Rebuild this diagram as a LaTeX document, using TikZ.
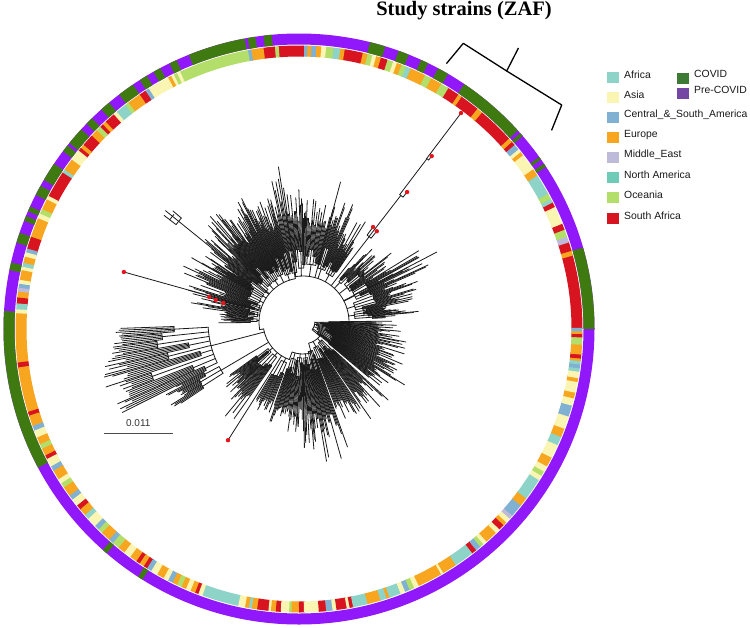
\documentclass[tikz,border=0pt]{standalone}
\usepackage{fontspec}
\setmainfont{Liberation Serif}
\newfontfamily\lsans{Liberation Sans}
\definecolor{cAfr}{HTML}{8DD3C7}
\definecolor{cAsia}{HTML}{FBF5B4}
\definecolor{cCSA}{HTML}{80B1D3}
\definecolor{cEur}{HTML}{F8A51F}
\definecolor{cME}{HTML}{BEBADA}
\definecolor{cNA}{HTML}{6DCBB8}
\definecolor{cOce}{HTML}{B3DE69}
\definecolor{cSA}{HTML}{D7141F}
\definecolor{ringG}{HTML}{3F7A10}
\definecolor{ringP}{HTML}{9118FA}
\definecolor{legG}{HTML}{3E7A35}
\definecolor{legP}{HTML}{7447A4}
\definecolor{treec}{HTML}{1A1A1A}
\definecolor{dotred}{HTML}{E8141C}
\tikzset{
  br/.style={draw=treec, line width=0.8pt, line cap=round},
  reddot/.style={fill=dotred},
  legbox/.style={minimum width=12pt, minimum height=11pt, inner sep=0pt, anchor=north west},
  legtxt/.style={font=\lsans\fontsize{10.4}{12}\selectfont, text=black!90, anchor=west, inner sep=0pt},
  brace/.style={draw=black, line width=1.3pt, line join=round, line cap=round}
}
\newcommand\myclade[8]{%
  \pgfmathsetmacro\cw{(#2-#1)/#3}%
  \pgfmathsetmacro\cm{(#1+#2)/2}%
  \pgfmathsetmacro\ca{#1+0.425*\cw}%
  \pgfmathsetmacro\cb{#2-0.575*\cw}%
  \draw[br] ([shift={(\cm:#4)}]T) -- ([shift={(\cm:#5)}]T);
  \draw[br] ([shift={(\ca:#5)}]T) arc[start angle=\ca, end angle=\cb, radius=#5];
  \foreach \jj in {1,...,#3}{%
    \pgfmathsetmacro\ga{#1+(\jj-1)*\cw}%
    \pgfmathsetmacro\gb{\ga+0.85*\cw}%
    \pgfmathsetmacro\gc{(\ga+\gb)/2}%
    \pgfmathsetmacro\rg{#5+2+#8*rnd}%
    \draw[br] ([shift={(\gc:#5)}]T) -- ([shift={(\gc:\rg)}]T);
    \draw[br] ([shift={(\ga:\rg)}]T) arc[start angle=\ga, end angle=\gb, radius=\rg];
    \foreach \kk in {0,...,4}{%
      \pgfmathsetmacro\la{\ga+(\gb-\ga)*\kk/4}%
      \pgfmathsetmacro\rr{rnd}%
      \pgfmathsetmacro\lf{max(\rg+6,#6+(#7-#6)*(0.4*\rr+0.6*\rr*\rr))}%
      \draw[br] ([shift={(\la:\rg)}]T) -- ([shift={(\la:\lf)}]T);
    }%
  }%
}
\begin{document}
\begin{tikzpicture}[x=1pt,y=1pt]
\useasboundingbox (0,0) rectangle (750,-627);
\fill[white] (0,0) rectangle (750,-627);
\coordinate (C) at (299,-329);
\coordinate (T) at (303,-322);
\pgfmathsetseed{7}

% ---------- outer ring (COVID / Pre-COVID)
\draw[ringP, line width=11pt] (C) circle[radius=290];
\foreach \pa/\pb in {0/16, 33.3/34, 35/35.6, 40.8/41.5, 42.2/56, 59.7/61.9, 64.1/65.6,
  68.2/70.3, 73/76.1, 95.3/96.9, 98.5/100, 100.6/111.9, 114.5/116, 118/119.5, 121/122.6,
  124.2/127.5, 130/132, 134.5/136, 137.5/141, 141.6/143, 146/149.7, 151/153, 155.5/156.5,
  157.5/158.5, 161/163, 167/168.5, 176.5/208, 228.4/229.4, 237/238}{
  \draw[ringG, line width=11pt] ([shift={(\pa:290)}]C) arc[start angle=\pa, end angle=\pb, radius=290];
}

% ---------- inner ring (regions)
\foreach \pa/\pb/\cl in {0/15/cSA, 15/16/cEur, 16/17.8/cSA, 17.8/19/cME, 19/20.5/cOce, 20.5/21.8/cSA,
 21.8/25.5/cAsia, 25.5/26.5/cSA, 26.5/27.3/cAfr, 27.3/28.5/cOce, 28.5/32.8/cAfr, 32.8/34.3/cEur,
 34.3/37.8/cAsia, 37.8/38.6/cEur, 38.6/39.3/cAsia, 39.3/40.5/cCSA, 40.5/41.3/cSA, 41.3/42.2/cEur,
 42.2/49.8/cSA, 49.8/51/cEur, 51/55/cSA, 55/55.8/cEur, 55.8/58.2/cSA, 58.2/59.9/cOce, 59.9/62.2/cEur,
 62.2/63.6/cOce, 63.6/66.8/cEur, 66.8/67.8/cAfr, 67.8/68.8/cOce, 68.8/69.8/cEur, 69.8/70.6/cAsia,
 70.6/71.8/cOce, 71.8/73.2/cSA, 73.2/74.2/cEur, 74.2/75/cAsia, 75/76/cOce, 76/77/cEur, 77/80.7/cSA,
 80.7/81.6/cEur, 81.6/83/cAfr, 83/84.5/cOce, 84.5/85.5/cAsia, 85.5/86.5/cEur, 86.5/87.5/cCSA,
 87.5/88.3/cEur, 88.3/89/cCSA, 89/94.1/cSA, 94.1/94.9/cOce, 94.9/97.2/cSA, 97.2/99.7/cEur,
 99.7/100.4/cCSA, 100.4/114.8/cOce, 114.8/115.5/cAsia, 115.5/116.2/cOce, 116.2/116.8/cAsia,
 116.8/117.5/cEur, 117.5/122/cAsia, 122/122.8/cCSA, 122.8/124.2/cSA, 124.2/127/cEur, 127/127.8/cOce,
 127.8/130/cAfr, 130/130.8/cAsia, 130.8/133/cSA, 133/133.8/cEur, 133.8/134.5/cSA, 134.5/135.5/cOce,
 135.5/137/cEur, 137/139.5/cSA, 139.5/140.3/cEur, 140.3/141/cSA, 141/143.3/cAsia, 143.3/145.8/cEur,
 145.8/146.5/cAfr, 146.5/152/cSA, 152/152.8/cAsia, 152.8/155/cEur, 155/156/cOce, 156/157/cAsia,
 157/161/cEur, 161/163.5/cSA, 163.5/164.3/cCSA, 164.3/165.2/cAsia, 165.2/166.5/cEur, 166.5/167.3/cAfr,
 167.3/168/cAsia, 168/170/cEur, 170/170.8/cAsia, 170.8/171.6/cCSA, 171.6/172.4/cME, 172.4/173.6/cEur,
 173.6/174.8/cSA, 174.8/176/cAfr, 176/176.8/cAsia, 176.8/186.8/cEur, 186.8/187.8/cSA, 187.8/197/cEur,
 197/197.8/cSA, 197.8/200/cEur, 200/201/cCSA, 201/202.5/cAsia, 202.5/204/cEur, 204/205/cOce,
 205/206.5/cEur, 206.5/207.3/cSA, 207.3/209/cAsia, 209/210/cCSA, 210/212/cEur, 212/213/cAsia,
 213/214/cOce, 214/216/cEur, 216/217/cCSA, 217/218.5/cAsia, 218.5/219.5/cSA, 219.5/221/cEur,
 221/222/cAfr, 222/224/cAsia, 224/225/cCSA, 225/226/cOce, 226/228/cEur, 228/229/cCSA, 229/230.5/cOce,
 230.5/232/cEur, 232/233.5/cAsia, 233.5/235/cEur, 235/235.8/cSA, 235.8/236.8/cEur, 236.8/237.6/cSA,
 237.6/238.6/cCSA, 238.6/240/cAsia, 240/241.5/cEur, 241.5/242.5/cAsia, 242.5/243.5/cCSA,
 243.5/244.5/cEur, 244.5/245.5/cOce, 245.5/246.5/cEur, 246.5/247.5/cAsia, 247.5/248.5/cEur,
 248.5/249.2/cSA, 249.2/250.1/cAsia, 250.1/257.6/cAfr, 257.6/259/cAsia, 259/259.8/cEur,
 259.8/260.4/cAfr, 260.4/261.5/cEur, 261.5/263.8/cSA, 263.8/264.3/cAsia, 264.3/265.3/cEur,
 265.3/266.3/cSA, 266.3/268/cAsia, 268/268.5/cOce, 268.5/270/cEur, 270/271/cSA, 271/274/cAsia,
 274/275.5/cSA, 275.5/276.8/cCSA, 276.8/277.6/cAsia, 277.6/279.7/cSA, 279.7/280.3/cAsia,
 280.3/281/cSA, 281/284/cAfr, 284/286.7/cEur, 286.7/288/cAfr, 288/288.6/cEur, 288.6/291/cAfr,
 291/292/cAsia, 292/293/cCSA, 293/294/cOce, 294/295/cAsia, 295/300.1/cEur, 300.1/300.6/cAsia,
 300.6/303.6/cEur, 303.6/307.7/cAfr, 307.7/308.7/cSA, 308.7/309.8/cCSA, 309.8/310.6/cOce,
 310.6/311.4/cAsia, 311.4/314/cEur, 314/315/cAsia, 315/316.2/cSA, 316.2/317/cEur, 317/318/cAsia,
 318/318.8/cME, 318.8/321.5/cCSA, 321.5/323.3/cEur, 323.3/327.8/cAfr, 327.8/328.8/cAsia,
 328.8/329.8/cOce, 329.8/331/cAsia, 331/333/cEur, 333/335.8/cAsia, 335.8/337.6/cAfr, 337.6/339.4/cEur,
 339.4/342/cAsia, 342/344.3/cCSA, 344.3/345.8/cAsia, 345.8/347/cEur, 347/349.2/cAsia, 349.2/350/cEur,
 350/351.3/cAsia, 351.3/352/cAfr, 352/352.8/cCSA, 352.8/353.5/cAfr, 353.5/354/cEur, 354/354.8/cSA,
 354.8/356.8/cEur, 356.8/358.3/cOce, 358.3/359/cSA, 359/359.5/cEur, 359.5/360/cCSA}{
  \pgfmathsetmacro\pe{\pb+0.25}
  \draw[\cl, line width=11pt] ([shift={(\pa:278)}]C) arc[start angle=\pa, end angle=\pe, radius=278];
}

% ---------- tree backbone
\draw[br] ([shift={(2:46)}]T) arc[start angle=2, end angle=100, radius=46];
\draw[br] ([shift={(100:46)}]T) -- ([shift={(100:44)}]T);
\draw[br] ([shift={(100:44)}]T) arc[start angle=100, end angle=190, radius=44];
\draw[br] ([shift={(190:44)}]T) -- ([shift={(190:40)}]T);
\draw[br] ([shift={(190:40)}]T) arc[start angle=190, end angle=250, radius=40];
\draw[br] ([shift={(250:40)}]T) -- ([shift={(250:32)}]T);
\draw[br] ([shift={(250:32)}]T) arc[start angle=250, end angle=285, radius=32];
\draw[br] ([shift={(285:32)}]T) -- ([shift={(285:22)}]T);
\draw[br] ([shift={(285:22)}]T) arc[start angle=285, end angle=320, radius=22];
\draw[br] ([shift={(320:22)}]T) -- ([shift={(320:12)}]T);
\draw[br] ([shift={(320:12)}]T) arc[start angle=320, end angle=361, radius=12];

% ---------- clades
\myclade{3}{12}{4}{46}{52}{80}{118}{18}
\myclade{12}{22}{4}{46}{54}{85}{125}{20}
\myclade{22}{32}{4}{46}{58}{85}{140}{20}
\myclade{32}{44}{4}{46}{56}{75}{112}{18}
\myclade{44}{50}{2}{46}{54}{70}{110}{15}
\myclade{56}{66}{4}{46}{54}{80}{120}{20}
\myclade{66}{76}{4}{46}{56}{90}{135}{22}
\myclade{76}{88}{4}{46}{58}{95}{125}{20}
\myclade{88}{96}{3}{46}{54}{100}{135}{20}
\myclade{96}{104}{3}{46}{50}{105}{145}{25}
\myclade{104}{112}{4}{44}{50}{95}{130}{20}
\myclade{112}{120}{4}{44}{52}{100}{140}{22}
\myclade{120}{128}{4}{44}{50}{95}{135}{22}
\myclade{128}{136}{4}{44}{50}{100}{142}{22}
\myclade{136}{144}{3}{44}{48}{90}{130}{20}
\myclade{144}{150}{3}{44}{48}{80}{120}{18}
\myclade{150}{158}{3}{44}{48}{90}{135}{20}
\myclade{158}{166}{3}{44}{46}{80}{125}{18}
\myclade{167}{175}{3}{44}{46}{75}{115}{16}
\myclade{175}{181}{2}{44}{46}{70}{100}{14}
\myclade{182}{207}{9}{40}{95}{180}{208}{70}
\myclade{207}{214}{3}{40}{95}{135}{160}{25}
\myclade{216}{225}{3}{40}{44}{80}{110}{16}
\myclade{225}{235}{3}{40}{44}{90}{125}{18}
\myclade{239}{250}{3}{40}{44}{85}{118}{18}
\myclade{251}{260}{3}{32}{38}{85}{115}{18}
\myclade{260}{270}{3}{32}{36}{85}{112}{18}
\myclade{270}{279}{3}{32}{36}{90}{128}{20}
\myclade{279}{290}{4}{32}{30}{95}{142}{20}
\myclade{291}{304}{4}{22}{28}{85}{110}{18}
\myclade{305}{318}{4}{22}{26}{80}{118}{18}
\myclade{320}{331}{4}{12}{18}{80}{120}{18}
\myclade{331}{343}{4}{12}{16}{80}{112}{16}
\myclade{343}{355}{4}{12}{14}{75}{105}{14}
\myclade{355}{361}{2}{12}{14}{70}{95}{10}

% ---------- individual long branches
\draw[br] ([shift={(27.6:46)}]T) -- ([shift={(27.6:151)}]T);
\draw[br] ([shift={(75:46)}]T) -- ([shift={(75:145)}]T);
\draw[br] ([shift={(99:46)}]T) -- ([shift={(99:157)}]T);
% upper-right lineage with study strains
\draw[br] ([shift={(52.2:46)}]T) -- ([shift={(52.2:108)}]T);
\draw[br] ([shift={(50.9:108)}]T) arc[start angle=50.9, end angle=53.6, radius=108];
\draw[br] ([shift={(50.9:108)}]T) -- ([shift={(50.9:117)}]T) coordinate (d1);
\draw[br] ([shift={(53.6:108)}]T) -- ([shift={(53.6:118)}]T) coordinate (d2);
\draw[br] ([shift={(52.3:108)}]T) -- ([shift={(52.3:160)}]T);
\draw[br] ([shift={(51.3:160)}]T) arc[start angle=51.3, end angle=52.8, radius=160];
\draw[br] ([shift={(51.3:160)}]T) -- ([shift={(51.3:166.5)}]T) coordinate (d3);
\draw[br] ([shift={(52.8:160)}]T) -- ([shift={(52.8:205)}]T);
\draw[br] ([shift={(52.2:205)}]T) arc[start angle=52.2, end angle=52.9, radius=205];
\draw[br] ([shift={(52.2:205)}]T) -- ([shift={(52.2:210)}]T) coordinate (d4);
\draw[br] ([shift={(52.9:205)}]T) -- ([shift={(52.9:262)}]T) coordinate (d5);
% left long branch
\draw[br] ([shift={(164.4:44)}]T) -- ([shift={(164.4:186)}]T) coordinate (d6);
\draw[br] ([shift={(165.8:44)}]T) -- ([shift={(165.8:60)}]T);
\draw[br] ([shift={(165.1:60)}]T) arc[start angle=165.1, end angle=166.6, radius=60];
\draw[br] ([shift={(165.1:60)}]T) -- ([shift={(165.1:97)}]T) coordinate (d7);
\draw[br] ([shift={(165.8:60)}]T) -- ([shift={(165.8:90)}]T) coordinate (d8);
\draw[br] ([shift={(166.6:60)}]T) -- ([shift={(166.6:82)}]T) coordinate (d9);
% upper-left boxed clade
\draw[br] ([shift={(141:44)}]T) -- ([shift={(141:160)}]T);
\draw[br] ([shift={(139.5:160)}]T) arc[start angle=139.5, end angle=142.5, radius=160];
\draw[br] ([shift={(139.5:160)}]T) -- ([shift={(139.5:171)}]T);
\draw[br] ([shift={(141:160)}]T) -- ([shift={(141:177)}]T);
\draw[br] ([shift={(142.5:160)}]T) -- ([shift={(142.5:175)}]T);
\draw[br] ([shift={(140.2:168)}]T) arc[start angle=140.2, end angle=142.5, radius=168];
% bottom-left study strain
\draw[br] ([shift={(237.6:40)}]T) -- ([shift={(237.6:140)}]T) coordinate (d10);

\foreach \dd in {d1,d2,d3,d4,d5,d6,d7,d8,d9,d10}{\fill[reddot] (\dd) circle[radius=2.2];}

% ---------- scale bar
\coordinate (sb1) at (104,-433.3);
\coordinate (sb2) at (172.7,-433.3);
\draw[draw=black!70, line width=1.1pt] (sb1) -- (sb2);
\node[font=\lsans\fontsize{10}{12}\selectfont, text=black!80, anchor=base] (sbt) at (138.3,-426.5) {0.011};

% ---------- bracket and title
\coordinate (k1) at (446.7,-63.3);
\coordinate (k2) at (463.3,-43.3);
\coordinate (k3) at (506.7,-71);
\coordinate (k4) at (561.7,-105);
\coordinate (k5) at (551.7,-130);
\coordinate (k6) at (518.3,-48.3);
\draw[brace] (k1) -- (k2) -- (k3) -- (k4) -- (k5);
\draw[brace] (k3) -- (k6);
\node[font=\bfseries\fontsize{20.5}{24}\selectfont, anchor=base, inner sep=0pt] (title) at (464,-15) {Study strains (ZAF)};

% ---------- legend
\node[legbox, fill=cAfr] (lb1) at (607,-72) {};
\node[legbox, fill=cAsia] (lb2) at (607,-92) {};
\node[legbox, fill=cCSA] (lb3) at (607,-112) {};
\node[legbox, fill=cEur] (lb4) at (607,-132) {};
\node[legbox, fill=cME] (lb5) at (607,-152) {};
\node[legbox, fill=cNA] (lb6) at (607,-172) {};
\node[legbox, fill=cOce] (lb7) at (607,-192) {};
\node[legbox, fill=cSA] (lb8) at (607,-213) {};
\node[legtxt] (lt1) at (624,-74.5) {Africa};
\node[legtxt] (lt2) at (624,-94.5) {Asia};
\node[legtxt] (lt3) at (624,-114.5) {Central\_\&\_South\_America};
\node[legtxt] (lt4) at (624,-134.5) {Europe};
\node[legtxt] (lt5) at (624,-154.5) {Middle\_East};
\node[legtxt] (lt6) at (624,-174.5) {North America};
\node[legtxt] (lt7) at (624,-194.5) {Oceania};
\node[legtxt] (lt8) at (624,-215.5) {South Africa};
\node[legbox, fill=legG] (lb9) at (677,-73) {};
\node[legbox, fill=legP] (lb10) at (677,-88) {};
\node[legtxt] (lt9) at (694,-74) {COVID};
\node[legtxt] (lt10) at (694,-89.5) {Pre-COVID};
\end{tikzpicture}
\end{document}
